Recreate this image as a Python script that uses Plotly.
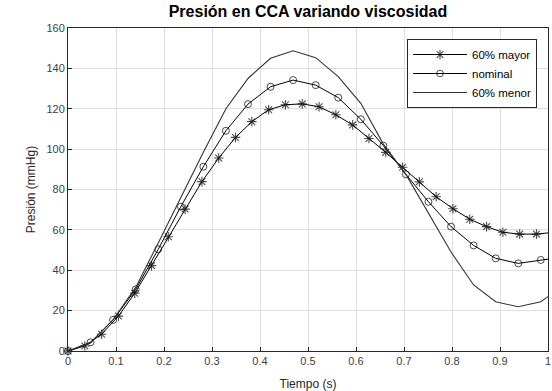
import plotly.graph_objects as go

# Data
mayor_t = [0, 0.035, 0.070, 0.105, 0.139, 0.174, 0.209, 0.244, 0.279, 0.314,
           0.349, 0.383, 0.418, 0.453, 0.488, 0.523, 0.558, 0.593, 0.627, 0.662,
           0.697, 0.732, 0.767, 0.802, 0.837, 0.872, 0.906, 0.941, 0.976, 1.0]
mayor_p = [0, 2.5, 8.3, 17.3, 28.6, 42.3, 56.6, 70.3, 83.9, 95.6,
           105.8, 113.6, 119.5, 122.0, 122.4, 121.0, 117.0, 112.0, 105.3, 98.4,
           91.0, 83.8, 76.4, 70.5, 65.3, 61.6, 58.8, 57.9, 57.9, 58.5]

nominal_t = [0, 0.047, 0.094, 0.141, 0.188, 0.235, 0.282, 0.329, 0.375, 0.422,
             0.469, 0.516, 0.563, 0.610, 0.657, 0.704, 0.751, 0.798, 0.845, 0.891,
             0.938, 0.985, 1.0]
nominal_p = [0, 4.3, 15.4, 30.5, 50.4, 71.5, 91.3, 109.1, 122.3, 130.9,
             134.2, 131.7, 125.5, 114.8, 101.7, 87.5, 73.9, 61.6, 52.3, 45.9,
             43.4, 45.1, 45.5]

menor_t = [0, 0.047, 0.094, 0.141, 0.188, 0.235, 0.282, 0.329, 0.375, 0.422,
           0.469, 0.516, 0.563, 0.610, 0.657, 0.704, 0.751, 0.798, 0.845, 0.891,
           0.938, 0.985, 1.0]
menor_p = [0, 4.0, 15.5, 31.5, 53.5, 76.0, 98.5, 120.0, 135.0, 145.0,
           148.7, 145.3, 135.9, 122.7, 102.5, 87.5, 68.0, 49.0, 32.7, 24.4,
           21.9, 24.4, 26.9]

x_ticks = [0, 0.1, 0.2, 0.3, 0.4, 0.5, 0.6, 0.7, 0.8, 0.9, 1]
x_tick_labels = ["0", "0.1", "0.2", "0.3", "0.4", "0.5", "0.6", "0.7", "0.8", "0.9", "1"]
y_ticks = [0, 20, 40, 60, 80, 100, 120, 140, 160]

FONT = "Liberation Sans, Arial, sans-serif"
AX = "#262626"
TICKC = "#404040"

fig = go.Figure()

fig.add_trace(go.Scatter(
    x=mayor_t, y=mayor_p, name="60% mayor", mode="lines+markers",
    line=dict(color="black", width=1),
    marker=dict(symbol="asterisk-open", size=[8] * (len(mayor_t) - 1) + [0],
                color="black", line=dict(color="black", width=1.1)),
    cliponaxis=False,
))
fig.add_trace(go.Scatter(
    x=nominal_t, y=nominal_p, name="nominal", mode="lines+markers",
    line=dict(color="black", width=1),
    marker=dict(symbol="circle-open", size=[7] * (len(nominal_t) - 1) + [0],
                color="black", line=dict(color="black", width=1)),
    cliponaxis=False,
))
fig.add_trace(go.Scatter(
    x=menor_t, y=menor_p, name="60% menor", mode="lines",
    line=dict(color="#333333", width=1.1),
    cliponaxis=False,
))

fig.update_layout(
    width=552, height=391,
    margin=dict(l=68, r=4, t=28, b=40),
    paper_bgcolor="white", plot_bgcolor="white",
    font=dict(family=FONT, size=11, color=TICKC),
    title=dict(text="<b>Presión en CCA variando viscosidad</b>",
               x=(68 + 548) / 2 / 552, xanchor="center",
               y=1 - 11 / 391, yanchor="middle",
               font=dict(family=FONT, size=16, color="black")),
    showlegend=True,
    legend=dict(x=(537 - 68) / 480, xanchor="right",
                y=(351 - 39) / 323, yanchor="top",
                bgcolor="white", bordercolor="#262626", borderwidth=1,
                font=dict(family=FONT, size=11.5, color="black"),
                itemwidth=54, tracegroupgap=0),
)

fig.update_xaxes(
    range=[0, 1], tickvals=x_ticks, ticktext=x_tick_labels,
    showgrid=True, gridcolor="#dedede", gridwidth=1,
    showline=True, linecolor=AX, linewidth=1, mirror=True,
    ticks="inside", ticklen=4, tickcolor=AX,
    zeroline=False, automargin=False,
    title=dict(text="Tiempo (s)", font=dict(family=FONT, size=12, color=AX), standoff=15),
)
fig.update_yaxes(
    range=[0, 160], tickvals=y_ticks,
    showgrid=True, gridcolor="#dedede", gridwidth=1,
    showline=True, linecolor=AX, linewidth=1, mirror=True,
    ticks="inside", ticklen=4, tickcolor=AX,
    zeroline=False, automargin=False,
    title=dict(text="Presión (mmHg)", font=dict(family=FONT, size=12, color=AX), standoff=8),
)

fig.write_html("out.html")
